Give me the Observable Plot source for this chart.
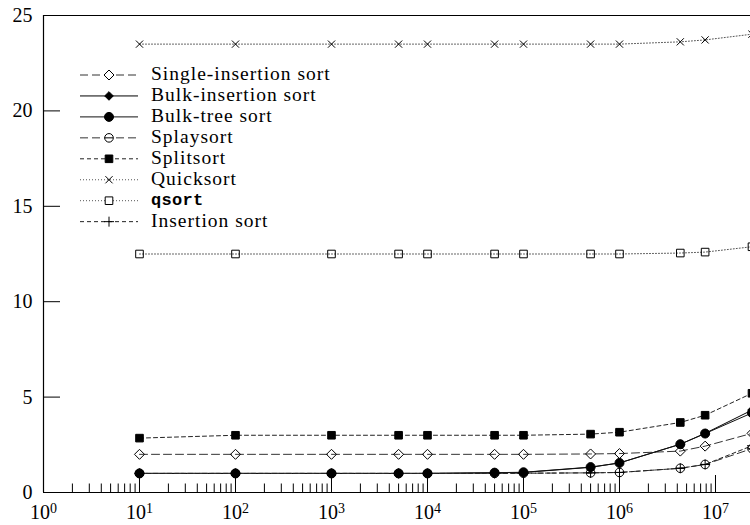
<!DOCTYPE html>
<html><head><meta charset="utf-8">
<script src="https://cdn.jsdelivr.net/npm/d3@7"></script>
<script src="https://cdn.jsdelivr.net/npm/@observablehq/plot@0.6"></script>
<style>
html,body{margin:0;padding:0;background:#fff;overflow:hidden}
#chart svg{display:block}
</style></head><body><div id="chart"></div>
<script>
// ---- data ----
const sizes = [10, 100, 1000, 5000, 10000, 50000, 100000, 500000, 1000000, 4300000, 7800000, 24000000];
const singleInsertion = [2.0, 2.0, 2.0, 2.0, 2.0, 2.0, 2.0, 2.02, 2.04, 2.17, 2.43, 3.1];
const bulkInsertion   = [1.0, 1.0, 1.0, 1.0, 1.0, 1.03, 1.05, 1.32, 1.55, 2.53, 3.1, 4.32];
const bulkTree        = [1.0, 1.0, 1.0, 1.0, 1.0, 1.04, 1.06, 1.33, 1.55, 2.53, 3.09, 4.17];
const splaysort       = [1.0, 1.0, 1.0, 1.0, 1.0, 1.0, 1.01, 1.03, 1.05, 1.27, 1.47, 2.3];
const splitsort       = [2.85, 3.0, 3.0, 3.0, 3.0, 3.0, 3.0, 3.06, 3.16, 3.67, 4.05, 5.2];
const quicksort       = [23.5, 23.5, 23.5, 23.5, 23.5, 23.5, 23.5, 23.5, 23.5, 23.62, 23.72, 24.02];
const qsortValues     = [12.5, 12.5, 12.5, 12.5, 12.5, 12.5, 12.5, 12.5, 12.5, 12.55, 12.6, 12.88];
const insertionSort   = [1.0, 1.0, 1.0, 1.0, 1.0, 1.0, 1.01, 1.03, 1.05, 1.27, 1.47, 2.45];
const seriesNames = ["Single-insertion sort", "Bulk-insertion sort", "Bulk-tree sort", "Splaysort",
                     "Splitsort", "Quicksort", "qsort", "Insertion sort"];
const seriesValues = [singleInsertion, bulkInsertion, bulkTree, splaysort, splitsort, quicksort, qsortValues, insertionSort];
const xTickExponents = [0, 1, 2, 3, 4, 5, 6, 7];
const yTicks = [0, 5, 10, 15, 20, 25];

// ---- custom symbols (size = PI r^2) ----
const rad = s => Math.sqrt(s / Math.PI);
const symDiamond = {draw(c, s) {const r = rad(s); c.moveTo(0, -r); c.lineTo(r, 0); c.lineTo(0, r); c.lineTo(-r, 0); c.closePath();}};
const symSquare = {draw(c, s) {const r = rad(s); c.rect(-r, -r, 2 * r, 2 * r);}};
const symCircle = {draw(c, s) {const r = rad(s); c.moveTo(r, 0); c.arc(0, 0, r, 0, 2 * Math.PI);}};
const symTimes = {draw(c, s) {const r = rad(s); c.moveTo(-r, -r); c.lineTo(r, r); c.moveTo(-r, r); c.lineTo(r, -r);}};
const symPlus = {draw(c, s) {const r = rad(s); c.moveTo(-r, 0); c.lineTo(r, 0); c.moveTo(0, -r); c.lineTo(0, r);}};
const symCircleMinus = {draw(c, s) {const r = rad(s); c.moveTo(r, 0); c.arc(0, 0, r, 0, 2 * Math.PI); c.moveTo(-r, 0); c.lineTo(r, 0);}};

const styles = [
  {dash: "8,4", stroke: "#333", symbol: symDiamond, fill: "none", r: 5},
  {dash: null, stroke: "#000", symbol: symDiamond, fill: "#000", r: 4.3},
  {dash: null, stroke: "#111", symbol: symCircle, fill: "#000", r: 4.5},
  {dash: "8,4", stroke: "#333", symbol: symCircleMinus, fill: "none", r: 4.3},
  {dash: "4,3", stroke: "#222", symbol: symSquare, fill: "#000", r: 3.8},
  {dash: "1,2", stroke: "#555", symbol: symTimes, fill: "none", r: 3.6},
  {dash: "1,2", stroke: "#555", symbol: symSquare, fill: "none", r: 3.8},
  {dash: "4,3", stroke: "#222", symbol: symPlus, fill: "none", r: 5}
];

const rows = seriesNames.flatMap((name, i) => sizes.map((n, j) => ({series: name, n, v: seriesValues[i][j]})));

const majorTicks = xTickExponents.map(e => Math.pow(10, e));
const minorTicks = [];
for (const e of xTickExponents.slice(0, -1)) for (let k = 2; k <= 9; k++) minorTicks.push(k * Math.pow(10, e));

const W = 750, H = 525, mL = 43, mR = 0, mT = 15, mB = 33;
const innerH = H - mT - mB, innerW = W - mL - mR;

const marks = [];
seriesNames.forEach((name, i) => {
  const st = styles[i];
  const data = rows.filter(d => d.series === name);
  marks.push(Plot.line(data, {x: "n", y: "v", stroke: st.stroke, strokeWidth: 1, strokeDasharray: st.dash}));
});
seriesNames.forEach((name, i) => {
  const st = styles[i];
  const data = rows.filter(d => d.series === name);
  marks.push(Plot.dot(data, {x: "n", y: "v", symbol: st.symbol, r: st.r, fill: st.fill, stroke: "#000", strokeWidth: 1}));
});

const chart = Plot.plot({
  width: W, height: H,
  marginLeft: mL, marginRight: mR, marginTop: mT, marginBottom: mB,
  style: {fontFamily: "'Liberation Serif', serif", fontSize: "20px", color: "#000", background: "#fff", overflow: "hidden"},
  x: {type: "log", domain: [1, 2.316e7]},
  y: {domain: [0, 25]},
  marks: [
    Plot.ruleX(majorTicks, {x: d => d, stroke: "#000", insetTop: innerH - 17}),
    Plot.ruleX(minorTicks, {x: d => d, stroke: "#000", insetTop: innerH - 8.5}),
    Plot.ruleY(yTicks, {y: d => d, stroke: "#000", insetRight: innerW - 17}),
    ...marks,
    Plot.ruleX([1], {stroke: "#000", strokeWidth: 1.2}),
    Plot.ruleY([0, 25], {stroke: "#000", strokeWidth: 1.2}),
    Plot.axisX({ticks: majorTicks, tickSize: 0, tickPadding: 12, label: null,
      tickFormat: d => `10^${Math.round(Math.log10(d))}`, fontSize: 20}),
    Plot.axisY({ticks: yTicks, tickSize: 0, tickPadding: 11, label: null, fontSize: 20})
  ]
});
document.getElementById("chart").appendChild(chart);

// superscripts on x tick labels
const NS = "http://www.w3.org/2000/svg";
chart.querySelectorAll('[aria-label="x-axis tick label"] text').forEach(t => {
  const [base, exp] = t.textContent.split("^");
  t.textContent = base;
  const ts = document.createElementNS(NS, "tspan");
  ts.setAttribute("dy", "-0.42em");
  ts.setAttribute("font-size", "14px");
  ts.textContent = exp;
  t.appendChild(ts);
});

// legend inside the plot (top-left)
const svg = d3.select(chart);
const lg = svg.append("g").attr("class", "legend").attr("text-anchor", "start");
seriesNames.forEach((name, i) => {
  const st = styles[i];
  const y = 75 + i * 20.95;
  lg.append("line").attr("x1", 80).attr("x2", 138).attr("y1", y).attr("y2", y)
    .attr("stroke", st.stroke).attr("stroke-width", 1).attr("stroke-dasharray", st.dash);
  lg.append("path").attr("transform", `translate(109,${y})`)
    .attr("d", d3.symbol(st.symbol, Math.PI * st.r * st.r)())
    .attr("fill", st.fill === "none" ? "#fff" : st.fill).attr("stroke", "#000").attr("stroke-width", 1);
  const isMono = name === "qsort";
  lg.append("text").attr("x", 151).attr("y", y + (isMono ? 4 : 5))
    .attr("text-anchor", "start")
    .attr("font-family", isMono ? "'Liberation Mono', monospace" : "'Liberation Serif', serif")
    .attr("font-weight", isMono ? "bold" : null)
    .attr("font-size", isMono ? 17 : 19.5)
    .attr("letter-spacing", isMono ? 0.3 : 1.0)
    .attr("fill", "#000")
    .text(name);
});
</script></body></html>
